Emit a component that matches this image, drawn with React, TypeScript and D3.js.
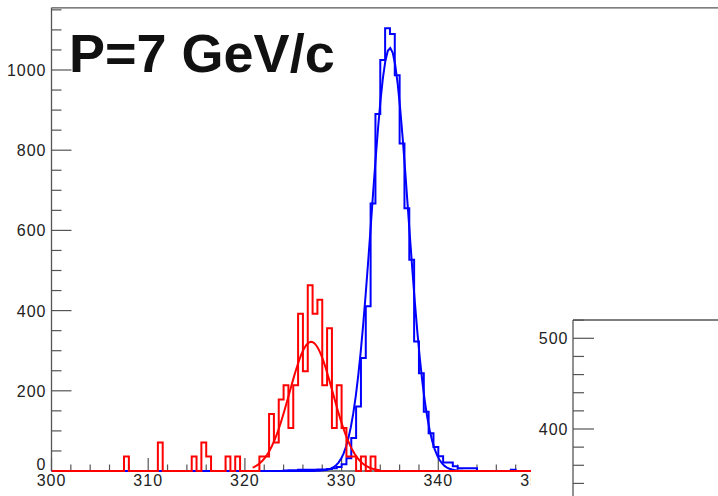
import React from "react";
import * as d3 from "d3";

// ---------- data ----------
const binStart = 300;
const binWidth = 0.5;
const binCount = 140;

// red histogram: bin lower edges and contents
const redBinLow = [307.5, 311.0, 314.5, 315.5, 316.0, 318.0, 319.0, 321.5, 322.0, 322.5, 323.0, 323.5, 324.0, 324.5, 325.0, 325.5, 326.0, 326.5, 327.0, 327.5, 328.0, 328.5, 329.0, 329.5, 330.0, 330.5, 331.0, 332.0, 333.0];
const redValues = [36, 71, 36, 71, 36, 36, 36, 36, 36, 142, 71, 178, 214, 107, 214, 392, 249, 463, 392, 427, 214, 356, 107, 214, 107, 36, 36, 36, 36];

// blue histogram
const blueBinLow = [324.0, 324.5, 325.0, 325.5, 326.0, 326.5, 327.0, 327.5, 328.0, 328.5, 329.0, 329.5, 330.0, 330.5, 331.0, 331.5, 332.0, 332.5, 333.0, 333.5, 334.0, 334.5, 335.0, 335.5, 336.0, 336.5, 337.0, 337.5, 338.0, 338.5, 339.0, 339.5, 340.0, 340.5, 341.0, 341.5, 342.0, 342.5, 343.0, 343.5, 347.5];
const blueValues = [1, 2, 2, 3, 3, 3, 3, 4, 4, 5, 7, 10, 17, 32, 82, 161, 282, 411, 667, 890, 1025, 1104, 1090, 987, 817, 655, 527, 323, 244, 148, 94, 60, 37, 21, 21, 12, 7, 7, 7, 7, 3];

// gaussian fit parameters [amplitude, mean, sigma] and drawing ranges
const redFit = [322, 326.85, 2.24];
const redFitRange = [320.8, 334];
const blueFit = [1055, 335.0, 1.9];
const blueFitRange = [320.5, 346];

const xTicksMajor = [300, 310, 320, 330, 340, 350];
const yTicksMajor = [0, 200, 400, 600, 800, 1000];
const insetTicksMajor = [500, 400];
const titleText = "P=7 GeV/c";

// ---------- layout ----------
const W = 718;
const H = 496;

function buildHist(lows: number[], vals: number[]) {
  const arr = new Array(binCount).fill(0);
  lows.forEach((lo, i) => {
    const k = Math.round((lo - binStart) / binWidth);
    if (k >= 0 && k < binCount) arr[k] = vals[i];
  });
  const pts: [number, number][] = arr.map((v, i) => [binStart + i * binWidth, v]);
  pts.push([binStart + binCount * binWidth, arr[binCount - 1]]);
  return pts;
}

function gaussPts(p: number[], range: number[]) {
  const n = 100;
  const pts: [number, number][] = [];
  for (let i = 0; i <= n; i++) {
    const x = range[0] + ((range[1] - range[0]) * i) / n;
    pts.push([x, p[0] * Math.exp(-((x - p[1]) ** 2) / (2 * p[2] * p[2]))]);
  }
  return pts;
}

export default function App() {
  const x = d3.scaleLinear().domain([300, 340]).range([51.5, 438.3]);
  const y = d3.scaleLinear().domain([0, 1000]).range([471, 70]);
  const xMax = 372;
  const yMax = 1155;
  const left = x(300);
  const right = x(xMax);
  const top = y(yMax);
  const bottom = y(0);

  const histLine = d3
    .line<[number, number]>()
    .x((d) => x(d[0]))
    .y((d) => y(d[1]))
    .curve(d3.curveStepAfter);
  const fitLine = d3
    .line<[number, number]>()
    .x((d) => x(d[0]))
    .y((d) => y(d[1]));

  const redHist = buildHist(redBinLow, redValues);
  const blueHist = buildHist(blueBinLow, blueValues);

  const xMinor = d3.range(300, xMax + 0.01, 2);
  const yMinor = d3.range(0, yMax, 50);

  // inset
  const insetLeft = 573;
  const insetTop = 320;
  const iy = d3.scaleLinear().domain([400, 500]).range([429, 338.3]);
  const insetMinor = d3.range(320, 521, 20);

  const axisColor = "#555";
  const labelColor = "#222";
  const font = "'Liberation Sans', Arial, Helvetica, sans-serif";

  return (
    <svg
      width={W}
      height={H}
      style={{ position: "fixed", left: 0, top: 0, background: "#fff" }}
      fontFamily={font}
    >
      <defs>
        <clipPath id="mainClip">
          <rect x={left} y={top} width={W - left} height={bottom - top + 2} />
        </clipPath>
      </defs>
      <rect x={0} y={0} width={W} height={H} fill="#fff" />

      {/* frame */}
      <line x1={left} x2={right} y1={top} y2={top} stroke={axisColor} strokeWidth={1.3} />
      <line x1={left} x2={left} y1={top} y2={bottom} stroke={axisColor} strokeWidth={1.3} />
      <line x1={left} x2={right} y1={bottom} y2={bottom} stroke={axisColor} strokeWidth={1.3} />

      {/* x ticks */}
      {xMinor.map((v) => (
        <line
          key={"xm" + v}
          x1={x(v)}
          x2={x(v)}
          y1={bottom}
          y2={bottom - (v % 10 === 0 ? 13 : 6.5)}
          stroke={axisColor}
          strokeWidth={1.2}
        />
      ))}
      {xTicksMajor.map((v) => (
        <text
          key={"xl" + v}
          x={x(v)}
          y={485.5}
          textAnchor="middle"
          fontSize={16}
          letterSpacing={1}
          fill={labelColor}
        >
          {v}
        </text>
      ))}

      {/* y ticks */}
      {yMinor.map((v) => (
        <line
          key={"ym" + v}
          x1={left}
          x2={left + (v % 200 === 0 ? 20 : 10)}
          y1={y(v)}
          y2={y(v)}
          stroke={axisColor}
          strokeWidth={1.2}
        />
      ))}
      {yTicksMajor.map((v) => (
        <text
          key={"yl" + v}
          x={46.5}
          y={v === 0 ? y(v) - 1 : y(v) + 6}
          textAnchor="end"
          fontSize={16}
          letterSpacing={1}
          fill={labelColor}
        >
          {v}
        </text>
      ))}

      {/* data */}
      <g clipPath="url(#mainClip)">
        <path d={histLine(blueHist) || ""} fill="none" stroke="#0000ff" strokeWidth={2} />
        <path d={fitLine(gaussPts(blueFit, blueFitRange)) || ""} fill="none" stroke="#0000ff" strokeWidth={2} />
        <path d={histLine(redHist) || ""} fill="none" stroke="#ff0000" strokeWidth={2} />
        <path d={fitLine(gaussPts(redFit, redFitRange)) || ""} fill="none" stroke="#ff0000" strokeWidth={2} />
      </g>

      {/* title */}
      <text x={69} y={72} fontSize={54} fontWeight="bold" fill="#111">
        {titleText}
      </text>

      {/* inset pad */}
      <rect x={531} y={305} width={W - 531} height={H - 305} fill="#fff" />
      <line x1={insetLeft} x2={W + 5} y1={insetTop} y2={insetTop} stroke={axisColor} strokeWidth={1.3} />
      <line x1={insetLeft} x2={insetLeft} y1={insetTop} y2={H + 5} stroke={axisColor} strokeWidth={1.3} />
      {insetMinor.map((v) => (
        <line
          key={"im" + v}
          x1={insetLeft}
          x2={insetLeft + (v % 100 === 0 ? 21 : 11)}
          y1={iy(v)}
          y2={iy(v)}
          stroke={axisColor}
          strokeWidth={1.2}
        />
      ))}
      {insetTicksMajor.map((v) => (
        <text
          key={"il" + v}
          x={568.5}
          y={iy(v) + 6}
          textAnchor="end"
          fontSize={16}
          letterSpacing={1}
          fill={labelColor}
        >
          {v}
        </text>
      ))}
    </svg>
  );
}
